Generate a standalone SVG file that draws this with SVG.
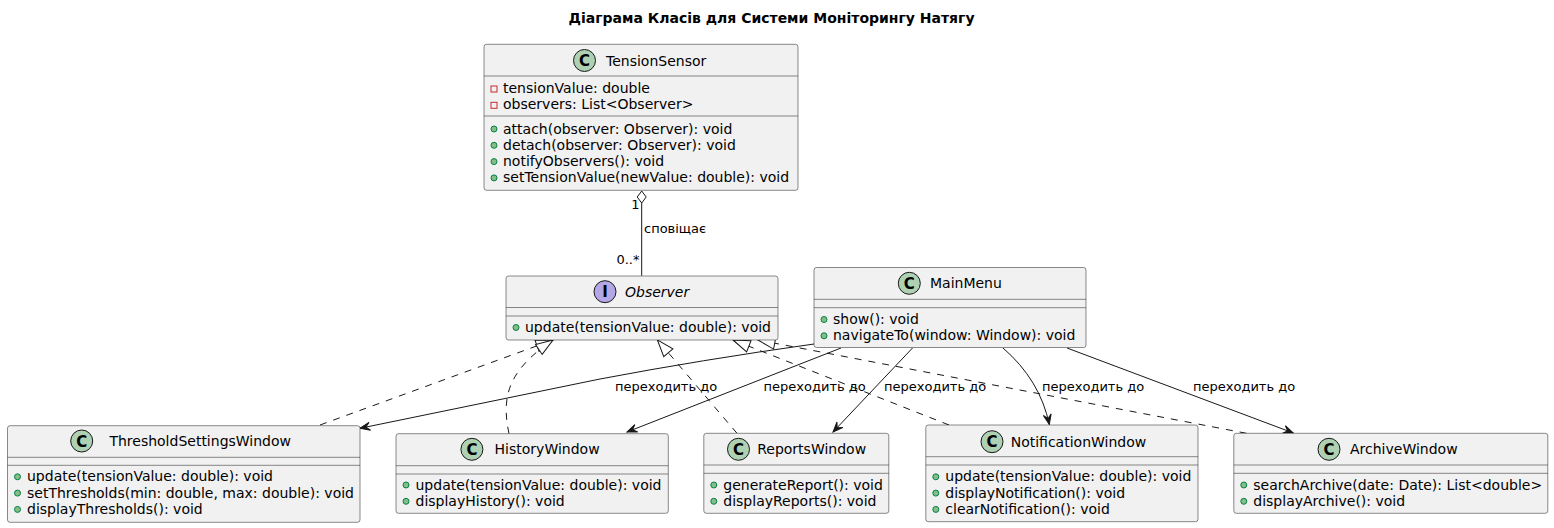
<svg xmlns="http://www.w3.org/2000/svg" width="1554" height="528" viewBox="0 0 1554 528">
<style>
text{font-family:"DejaVu Sans","Liberation Sans",sans-serif;fill:#000}
.title{font-size:14px;font-weight:bold}
.box{fill:#F1F1F1;stroke:#181818;stroke-width:0.5}
.div{stroke:#181818;stroke-width:0.5}
.name{font-size:14px}
.mem{font-size:14px}
.lbl{font-size:13px}
.cc{fill:#ADD1B2;stroke:#181818;stroke-width:1}
.ic{fill:#B4A7E5;stroke:#181818;stroke-width:1}
.letter{font-size:15px;font-weight:bold;text-anchor:middle}
.pub{fill:#84BE84;stroke:#038048;stroke-width:1}
.priv{fill:none;stroke:#C82930;stroke-width:1}
.edge{fill:none;stroke:#181818;stroke-width:1}
.dash{stroke-dasharray:7,7}
</style>
<defs>
<marker id="nav" markerUnits="userSpaceOnUse" markerWidth="12" markerHeight="10" refX="10" refY="4" orient="auto" overflow="visible">
<path d="M0,0 L10,4 L0,8 L4,4 Z" fill="#181818" stroke="#181818" stroke-width="1"/>
</marker>
<marker id="real" markerUnits="userSpaceOnUse" markerWidth="20" markerHeight="14" refX="17" refY="6" orient="auto" overflow="visible">
<path d="M17,6 L0,0 L0,12 Z" fill="#FFFFFF" stroke="#181818" stroke-width="1"/>
</marker>
</defs>
<rect width="1554" height="528" fill="#FFFFFF"/>
<text class="title" x="771.5" y="23" text-anchor="middle">Діаграма Класів для Системи Моніторингу Натягу</text>

<g id="connectors">
<polygon points="641.7,191 646.2,197 641.7,203 637.2,197" fill="#FFFFFF" stroke="#181818" stroke-width="1"/>
<path class="edge" d="M641.7,203 L641.7,275.7"/>
<text class="lbl" x="639.5" y="209" text-anchor="end">1</text>
<text class="lbl" x="644" y="233">сповіщає</text>
<text class="lbl" x="639.5" y="264" text-anchor="end">0..*</text>

<path class="edge dash" d="M320,425 L553,340" marker-end="url(#real)"/>
<path class="edge dash" d="M509,433.7 C502,400 505,372 553,340" marker-end="url(#real)"/>
<path class="edge dash" d="M737,433.3 L657.3,339.8" marker-end="url(#real)"/>
<path class="edge dash" d="M949,425 L733,340" marker-end="url(#real)"/>
<path class="edge dash" d="M1246.5,433.3 L758,340" marker-end="url(#real)"/>

<path class="edge" d="M814,344 Q700,360 600,379 L360,428.3" marker-end="url(#nav)"/>
<path class="edge" d="M841,348 L627,432" marker-end="url(#nav)"/>
<path class="edge" d="M912.5,348 L833,432" marker-end="url(#nav)"/>
<path class="edge" d="M1003,348 Q1040,380 1049.3,424.5" marker-end="url(#nav)"/>
<path class="edge" d="M1067,348 L1293.3,433" marker-end="url(#nav)"/>
<text class="lbl" x="615" y="391">переходить до</text>
<text class="lbl" x="763.6" y="391">переходить до</text>
<text class="lbl" x="884" y="391">переходить до</text>
<text class="lbl" x="1042" y="391">переходить до</text>
<text class="lbl" x="1193" y="391">переходить до</text>
</g>

<g id="TensionSensor">
<rect class="box" x="484" y="44.3" width="314" height="146" rx="2.5"/>
<circle class="cc" cx="584.5" cy="60.5" r="11"/>
<text class="letter" x="584.5" y="66">C</text>
<text class="name" x="606" y="65.5">TensionSensor</text>
<line class="div" x1="484" y1="76" x2="798" y2="76"/>
<rect class="priv" x="491" y="86" width="6" height="6"/>
<text class="mem" x="503" y="93">tensionValue: double</text>
<rect class="priv" x="491" y="102.3" width="6" height="6"/>
<text class="mem" x="503" y="109.3">observers: List&lt;Observer&gt;</text>
<line class="div" x1="484" y1="116" x2="798" y2="116"/>
<circle class="pub" cx="494" cy="129" r="3"/>
<text class="mem" x="503" y="133.5">attach(observer: Observer): void</text>
<circle class="pub" cx="494" cy="145.3" r="3"/>
<text class="mem" x="503" y="149.8">detach(observer: Observer): void</text>
<circle class="pub" cx="494" cy="161.6" r="3"/>
<text class="mem" x="503" y="166.1">notifyObservers(): void</text>
<circle class="pub" cx="494" cy="177.9" r="3"/>
<text class="mem" x="503" y="182.4">setTensionValue(newValue: double): void</text>
</g>

<g id="Observer">
<rect class="box" x="506" y="276" width="272" height="64" rx="2.5"/>
<circle class="ic" cx="605" cy="291.7" r="11"/>
<text class="letter" x="605" y="297.2">I</text>
<text class="name" x="625" y="296.5" font-style="italic">Observer</text>
<line class="div" x1="506" y1="307.5" x2="778" y2="307.5"/>
<line class="div" x1="506" y1="316" x2="778" y2="316"/>
<circle class="pub" cx="516" cy="327.5" r="3"/>
<text class="mem" x="525" y="332">update(tensionValue: double): void</text>
</g>

<g id="MainMenu">
<rect class="box" x="814" y="267.5" width="272" height="80" rx="2.5"/>
<circle class="cc" cx="909.3" cy="283.3" r="11"/>
<text class="letter" x="909.3" y="288.8">C</text>
<text class="name" x="930" y="288">MainMenu</text>
<line class="div" x1="814" y1="299.3" x2="1086" y2="299.3"/>
<line class="div" x1="814" y1="307.7" x2="1086" y2="307.7"/>
<circle class="pub" cx="824" cy="319.5" r="3"/>
<text class="mem" x="833" y="324">show(): void</text>
<circle class="pub" cx="824" cy="335.8" r="3"/>
<text class="mem" x="833" y="340.3">navigateTo(window: Window): void</text>
</g>

<g id="ThresholdSettingsWindow">
<rect class="box" x="7.5" y="425.7" width="352.5" height="96.6" rx="2.5"/>
<circle class="cc" cx="81.7" cy="441" r="11"/>
<text class="letter" x="81.7" y="446.5">C</text>
<text class="name" x="109.4" y="446">ThresholdSettingsWindow</text>
<line class="div" x1="7.5" y1="457.3" x2="360" y2="457.3"/>
<line class="div" x1="7.5" y1="465.3" x2="360" y2="465.3"/>
<circle class="pub" cx="17.5" cy="476.8" r="3"/>
<text class="mem" x="27" y="481.3">update(tensionValue: double): void</text>
<circle class="pub" cx="17.5" cy="493.1" r="3"/>
<text class="mem" x="27" y="497.6">setThresholds(min: double, max: double): void</text>
<circle class="pub" cx="17.5" cy="509.4" r="3"/>
<text class="mem" x="27" y="513.9">displayThresholds(): void</text>
</g>

<g id="HistoryWindow">
<rect class="box" x="396" y="433.7" width="272.3" height="79.6" rx="2.5"/>
<circle class="cc" cx="471.9" cy="449.3" r="11"/>
<text class="letter" x="471.9" y="454.8">C</text>
<text class="name" x="494.6" y="454">HistoryWindow</text>
<line class="div" x1="396" y1="465.7" x2="668.3" y2="465.7"/>
<line class="div" x1="396" y1="474" x2="668.3" y2="474"/>
<circle class="pub" cx="406" cy="485" r="3"/>
<text class="mem" x="415.5" y="489.5">update(tensionValue: double): void</text>
<circle class="pub" cx="406" cy="501.3" r="3"/>
<text class="mem" x="415.5" y="505.8">displayHistory(): void</text>
</g>

<g id="ReportsWindow">
<rect class="box" x="703.8" y="433.3" width="185" height="80" rx="2.5"/>
<circle class="cc" cx="738.5" cy="449.3" r="11"/>
<text class="letter" x="738.5" y="454.8">C</text>
<text class="name" x="757.2" y="454">ReportsWindow</text>
<line class="div" x1="703.8" y1="465" x2="888.8" y2="465"/>
<line class="div" x1="703.8" y1="473.3" x2="888.8" y2="473.3"/>
<circle class="pub" cx="713.8" cy="485" r="3"/>
<text class="mem" x="723.3" y="489.5">generateReport(): void</text>
<circle class="pub" cx="713.8" cy="501.3" r="3"/>
<text class="mem" x="723.3" y="505.8">displayReports(): void</text>
</g>

<g id="NotificationWindow">
<rect class="box" x="925.8" y="425" width="272.2" height="96.7" rx="2.5"/>
<circle class="cc" cx="992" cy="441.7" r="11"/>
<text class="letter" x="992" y="447.2">C</text>
<text class="name" x="1010.7" y="446.5">NotificationWindow</text>
<line class="div" x1="925.8" y1="456.7" x2="1198" y2="456.7"/>
<line class="div" x1="925.8" y1="465" x2="1198" y2="465"/>
<circle class="pub" cx="935.8" cy="476.8" r="3"/>
<text class="mem" x="945.3" y="481.3">update(tensionValue: double): void</text>
<circle class="pub" cx="935.8" cy="493.1" r="3"/>
<text class="mem" x="945.3" y="497.6">displayNotification(): void</text>
<circle class="pub" cx="935.8" cy="509.4" r="3"/>
<text class="mem" x="945.3" y="513.9">clearNotification(): void</text>
</g>

<g id="ArchiveWindow">
<rect class="box" x="1233.8" y="433.3" width="314" height="80" rx="2.5"/>
<circle class="cc" cx="1329" cy="449.3" r="11"/>
<text class="letter" x="1329" y="454.8">C</text>
<text class="name" x="1350" y="454">ArchiveWindow</text>
<line class="div" x1="1233.8" y1="465" x2="1547.8" y2="465"/>
<line class="div" x1="1233.8" y1="473.3" x2="1547.8" y2="473.3"/>
<circle class="pub" cx="1243.8" cy="485" r="3"/>
<text class="mem" x="1253.3" y="489.5">searchArchive(date: Date): List&lt;double&gt;</text>
<circle class="pub" cx="1243.8" cy="501.3" r="3"/>
<text class="mem" x="1253.3" y="505.8">displayArchive(): void</text>
</g>
</svg>
